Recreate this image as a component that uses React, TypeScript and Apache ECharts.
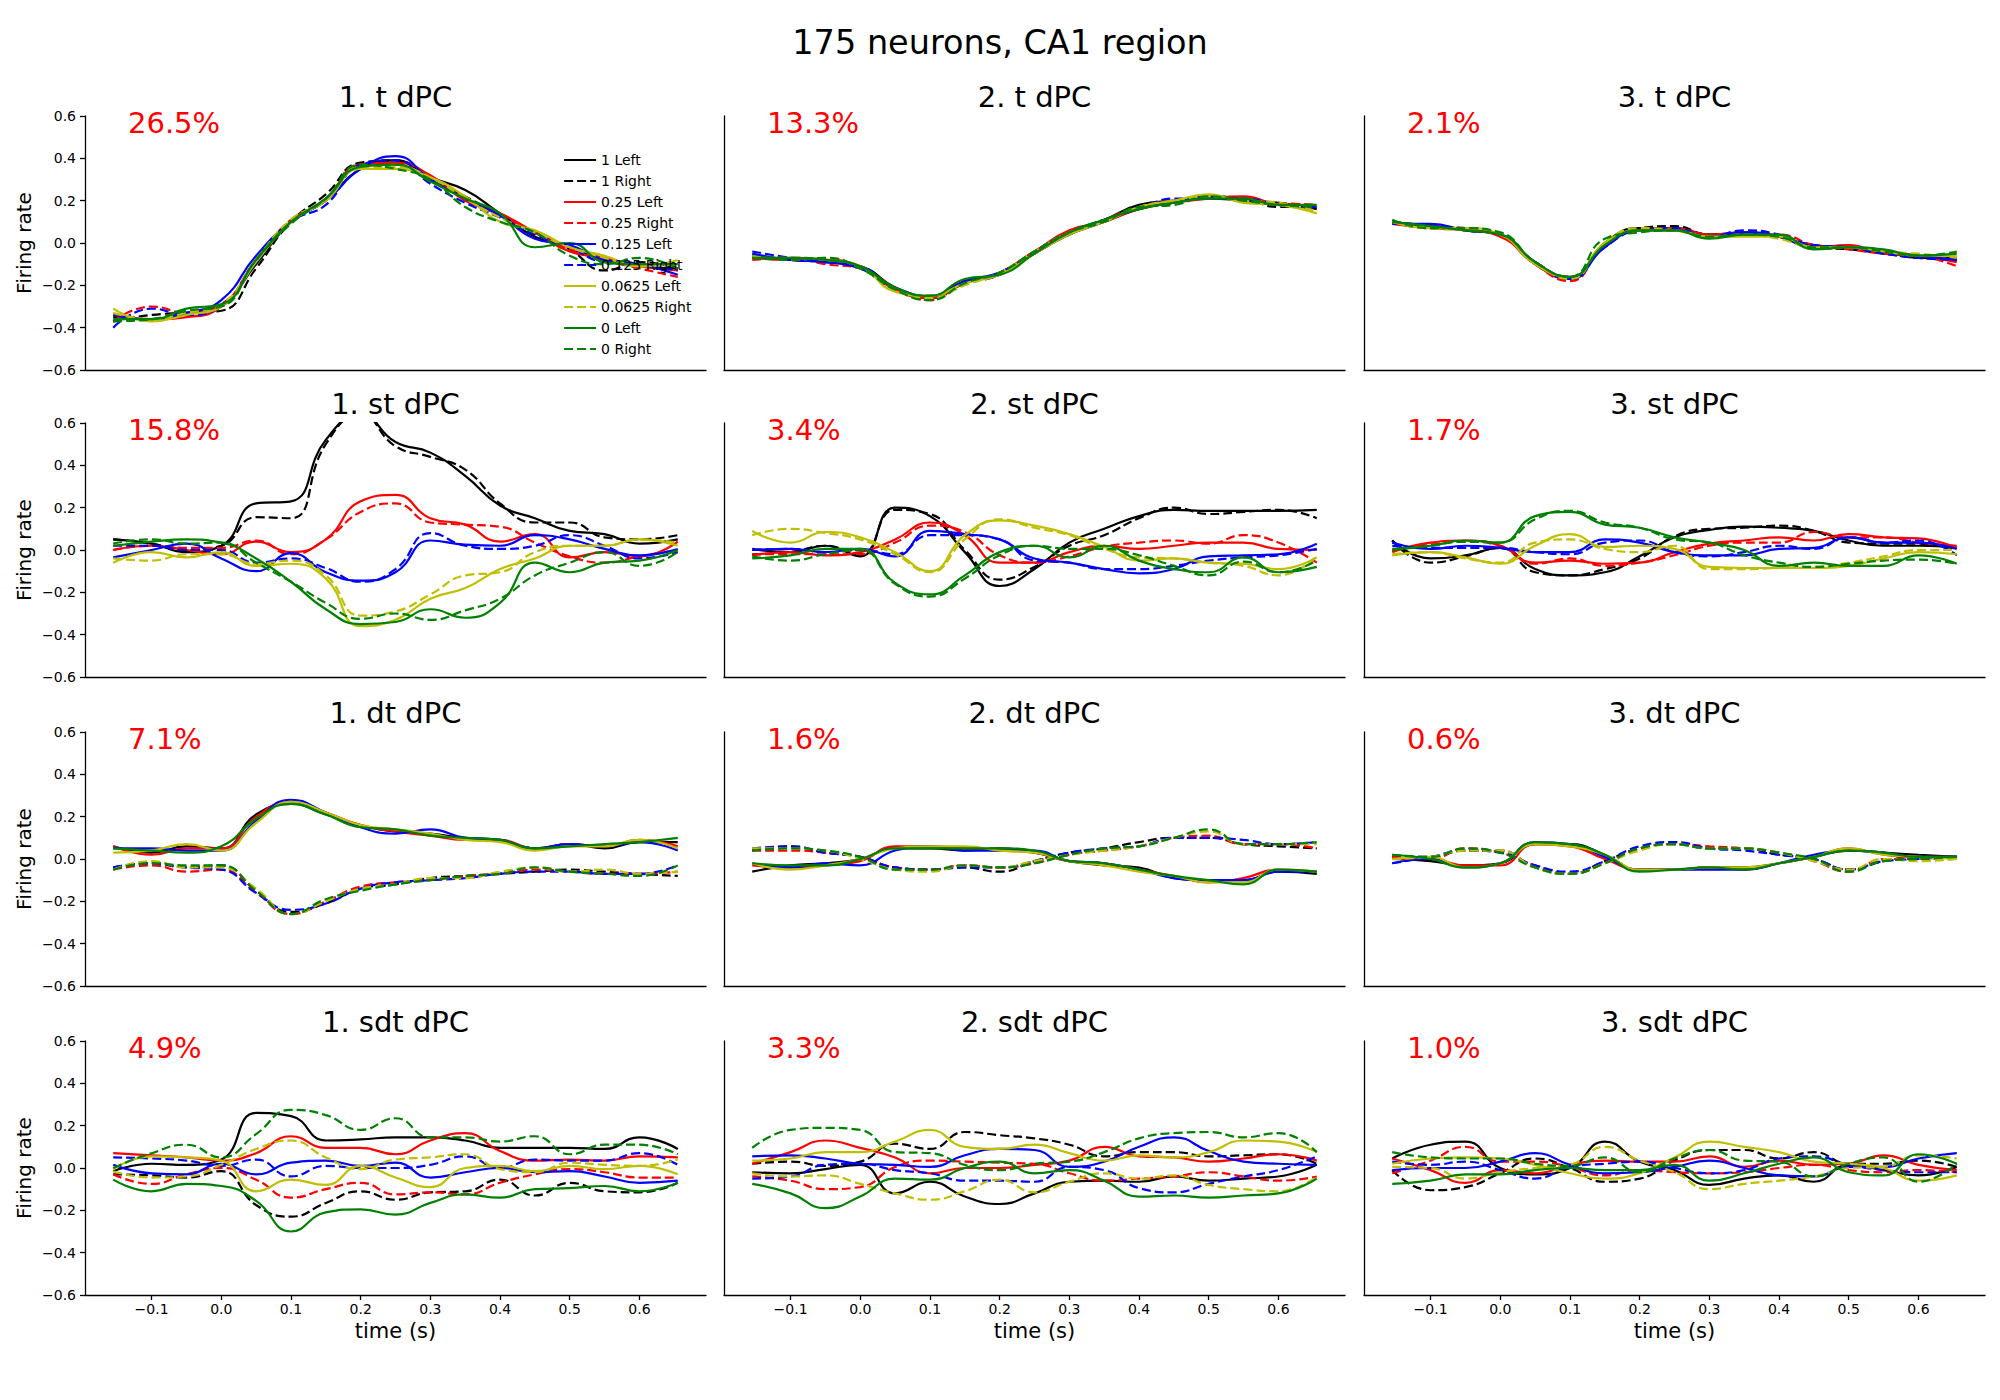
import React, { useEffect, useRef } from 'react';
import * as echarts from 'echarts';

// time axis (s), shared by every trace
const timeS = [-0.155, -0.1, -0.05, 0, 0.05, 0.1, 0.15, 0.2, 0.25, 0.3, 0.35, 0.4, 0.45, 0.5, 0.55, 0.6, 0.655];

const conditionNames = ['1 Left', '1 Right', '0.25 Left', '0.25 Right', '0.125 Left', '0.125 Right', '0.0625 Left', '0.0625 Right', '0 Left', '0 Right'];
const conditionColors = ['#000000', '#000000', '#ff0000', '#ff0000', '#0000ff', '#0000ff', '#bfbf00', '#bfbf00', '#008000', '#008000'];
const conditionDashed = [false, true, false, true, false, true, false, true, false, true];

const panelTitles = ['1. t dPC', '2. t dPC', '3. t dPC', '1. st dPC', '2. st dPC', '3. st dPC', '1. dt dPC', '2. dt dPC', '3. dt dPC', '1. sdt dPC', '2. sdt dPC', '3. sdt dPC'];
const explainedVar = ['26.5%', '13.3%', '2.1%', '15.8%', '3.4%', '1.7%', '7.1%', '1.6%', '0.6%', '4.9%', '3.3%', '1.0%'];

const xTicks = [-0.1, 0, 0.1, 0.2, 0.3, 0.4, 0.5, 0.6];

// one row per condition, in the order of conditionNames
const tDpc1 = [
  [-0.35, -0.36, -0.33, -0.29, -0.1, 0.1, 0.2, 0.35, 0.39, 0.31, 0.25, 0.14, 0.03, -0.02, -0.08, -0.11, -0.12],
  [-0.37, -0.34, -0.33, -0.32, -0.12, 0.1, 0.23, 0.38, 0.39, 0.3, 0.22, 0.13, 0.05, -0.03, -0.13, -0.09, -0.12],
  [-0.34, -0.36, -0.35, -0.3, -0.08, 0.1, 0.21, 0.37, 0.38, 0.32, 0.2, 0.14, 0.05, -0.04, -0.07, -0.11, -0.13],
  [-0.37, -0.3, -0.33, -0.29, -0.08, 0.11, 0.2, 0.37, 0.37, 0.3, 0.21, 0.13, 0.05, -0.03, -0.08, -0.12, -0.16],
  [-0.34, -0.36, -0.33, -0.27, -0.06, 0.1, 0.2, 0.35, 0.41, 0.3, 0.21, 0.13, 0.02, -0.01, -0.08, -0.1, -0.15],
  [-0.4, -0.31, -0.34, -0.3, -0.09, 0.1, 0.18, 0.37, 0.39, 0.28, 0.19, 0.12, 0.04, -0.02, -0.09, -0.1, -0.13],
  [-0.31, -0.37, -0.34, -0.3, -0.09, 0.1, 0.2, 0.35, 0.35, 0.31, 0.22, 0.1, 0.06, -0.02, -0.06, -0.11, -0.08],
  [-0.33, -0.36, -0.33, -0.29, -0.08, 0.11, 0.2, 0.36, 0.36, 0.31, 0.21, 0.12, 0.05, -0.02, -0.07, -0.11, -0.1],
  [-0.36, -0.36, -0.31, -0.29, -0.08, 0.1, 0.21, 0.36, 0.37, 0.29, 0.21, 0.14, -0.02, 0.0, -0.09, -0.1, -0.1],
  [-0.37, -0.36, -0.32, -0.3, -0.08, 0.09, 0.21, 0.37, 0.35, 0.3, 0.17, 0.1, 0.05, -0.06, -0.1, -0.07, -0.12],
];

const tDpc2 = [
  [-0.06, -0.08, -0.09, -0.11, -0.21, -0.26, -0.19, -0.14, -0.04, 0.05, 0.11, 0.18, 0.2, 0.21, 0.2, 0.19, 0.16],
  [-0.07, -0.07, -0.08, -0.12, -0.22, -0.25, -0.18, -0.15, -0.05, 0.04, 0.1, 0.16, 0.19, 0.22, 0.21, 0.17, 0.17],
  [-0.07, -0.08, -0.08, -0.11, -0.22, -0.26, -0.19, -0.14, -0.04, 0.06, 0.1, 0.16, 0.19, 0.21, 0.22, 0.18, 0.17],
  [-0.08, -0.07, -0.1, -0.12, -0.21, -0.27, -0.18, -0.15, -0.05, 0.04, 0.11, 0.17, 0.2, 0.22, 0.2, 0.19, 0.18],
  [-0.05, -0.08, -0.09, -0.12, -0.21, -0.25, -0.18, -0.14, -0.05, 0.04, 0.1, 0.17, 0.19, 0.22, 0.2, 0.18, 0.17],
  [-0.04, -0.07, -0.09, -0.11, -0.22, -0.26, -0.19, -0.15, -0.04, 0.05, 0.11, 0.16, 0.21, 0.21, 0.21, 0.18, 0.16],
  [-0.07, -0.07, -0.08, -0.11, -0.23, -0.25, -0.19, -0.15, -0.05, 0.04, 0.1, 0.17, 0.2, 0.23, 0.19, 0.18, 0.14],
  [-0.06, -0.08, -0.07, -0.12, -0.22, -0.26, -0.2, -0.14, -0.04, 0.05, 0.1, 0.17, 0.2, 0.22, 0.2, 0.19, 0.15],
  [-0.07, -0.07, -0.08, -0.11, -0.21, -0.25, -0.17, -0.15, -0.05, 0.05, 0.11, 0.16, 0.19, 0.21, 0.21, 0.18, 0.18],
  [-0.07, -0.08, -0.07, -0.12, -0.22, -0.27, -0.19, -0.14, -0.04, 0.05, 0.1, 0.17, 0.18, 0.22, 0.2, 0.18, 0.17],
];

const tDpc3 = [
  [0.09, 0.08, 0.06, 0.04, -0.1, -0.17, 0.0, 0.07, 0.07, 0.04, 0.05, 0.03, -0.01, -0.02, -0.04, -0.07, -0.07],
  [0.1, 0.07, 0.07, 0.04, -0.09, -0.16, -0.01, 0.07, 0.08, 0.04, 0.04, 0.03, -0.02, -0.03, -0.05, -0.07, -0.08],
  [0.09, 0.07, 0.06, 0.03, -0.1, -0.17, -0.01, 0.06, 0.07, 0.04, 0.05, 0.03, -0.02, -0.01, -0.05, -0.06, -0.09],
  [0.1, 0.08, 0.07, 0.04, -0.1, -0.18, -0.01, 0.06, 0.06, 0.03, 0.04, 0.04, -0.01, -0.03, -0.05, -0.06, -0.11],
  [0.09, 0.09, 0.06, 0.04, -0.09, -0.17, -0.02, 0.06, 0.06, 0.03, 0.05, 0.03, -0.02, -0.02, -0.04, -0.06, -0.08],
  [0.1, 0.08, 0.06, 0.04, -0.09, -0.16, -0.02, 0.06, 0.07, 0.03, 0.06, 0.04, -0.01, -0.02, -0.05, -0.07, -0.08],
  [0.1, 0.07, 0.07, 0.04, -0.1, -0.16, 0.0, 0.06, 0.06, 0.03, 0.03, 0.03, -0.02, -0.02, -0.04, -0.06, -0.06],
  [0.1, 0.07, 0.06, 0.04, -0.09, -0.17, 0.0, 0.07, 0.06, 0.03, 0.04, 0.02, -0.02, -0.02, -0.04, -0.05, -0.07],
  [0.1, 0.08, 0.06, 0.04, -0.09, -0.16, -0.01, 0.06, 0.06, 0.02, 0.04, 0.04, -0.03, -0.02, -0.03, -0.06, -0.05],
  [0.11, 0.07, 0.07, 0.05, -0.09, -0.16, 0.02, 0.05, 0.06, 0.03, 0.04, 0.03, -0.02, -0.02, -0.04, -0.06, -0.04],
];

const stDpc1 = [
  [0.05, 0.03, -0.01, 0.02, 0.22, 0.23, 0.52, 0.64, 0.51, 0.46, 0.35, 0.21, 0.15, 0.09, 0.075, 0.03, 0.05],
  [0.05, 0.03, 0.0, 0.02, 0.155, 0.15, 0.5, 0.64, 0.49, 0.44, 0.38, 0.22, 0.13, 0.13, 0.06, 0.05, 0.07],
  [0.0, 0.02, 0.0, -0.02, 0.04, -0.01, 0.05, 0.23, 0.26, 0.15, 0.12, 0.04, 0.075, -0.035, -0.01, -0.03, 0.04],
  [0.0, 0.02, 0.01, 0.01, 0.045, -0.02, 0.05, 0.18, 0.22, 0.13, 0.12, 0.11, 0.035, -0.03, -0.06, -0.03, 0.0],
  [-0.035, 0.0, 0.03, -0.04, -0.1, -0.015, -0.105, -0.145, -0.105, 0.045, 0.025, 0.02, 0.07, 0.05, 0.005, -0.025, 0.005],
  [0.02, 0.02, 0.0, 0.0, -0.06, -0.04, -0.085, -0.15, -0.09, 0.08, 0.02, 0.005, 0.02, 0.07, 0.02, -0.04, -0.01],
  [-0.06, -0.01, -0.035, -0.01, -0.075, -0.065, -0.135, -0.36, -0.33, -0.23, -0.18, -0.09, -0.04, 0.02, 0.02, 0.05, 0.02],
  [-0.04, -0.05, -0.02, -0.02, -0.065, -0.05, -0.12, -0.31, -0.29, -0.21, -0.12, -0.105, -0.01, 0.02, 0.02, 0.05, 0.035],
  [0.02, 0.04, 0.05, 0.035, -0.04, -0.15, -0.28, -0.35, -0.34, -0.28, -0.32, -0.25, -0.06, -0.105, -0.06, -0.05, 0.0],
  [0.03, 0.05, 0.03, 0.035, -0.06, -0.15, -0.25, -0.325, -0.3, -0.33, -0.285, -0.23, -0.12, -0.06, -0.01, -0.075, -0.01],
];

const stDpc2 = [
  [0.005, -0.01, 0.02, -0.03, 0.2, 0.16, -0.01, -0.17, -0.09, 0.035, 0.1, 0.16, 0.19, 0.185, 0.185, 0.185, 0.19],
  [-0.02, -0.01, 0.02, -0.02, 0.19, 0.17, 0.0, -0.14, -0.08, 0.02, 0.07, 0.15, 0.2, 0.17, 0.18, 0.19, 0.15],
  [-0.025, -0.01, -0.025, -0.01, 0.05, 0.13, 0.07, -0.06, -0.06, -0.01, 0.02, 0.005, 0.02, 0.035, 0.035, 0.005, 0.0],
  [-0.02, -0.02, -0.02, -0.02, 0.035, 0.115, 0.085, -0.025, -0.06, -0.03, 0.015, 0.035, 0.045, 0.03, 0.07, 0.035, -0.06],
  [0.0, 0.005, -0.01, 0.005, -0.03, 0.09, 0.075, 0.05, -0.04, -0.06, -0.09, -0.11, -0.09, -0.03, -0.025, -0.02, 0.03],
  [0.0, 0.005, -0.01, 0.0, -0.02, 0.07, 0.07, 0.05, -0.05, -0.06, -0.09, -0.09, -0.075, -0.05, -0.035, -0.025, 0.005],
  [0.09, 0.035, 0.085, 0.06, -0.01, -0.1, 0.07, 0.14, 0.115, 0.075, 0.015, -0.05, -0.04, -0.06, -0.065, -0.09, -0.035],
  [0.07, 0.1, 0.08, 0.05, -0.02, -0.105, 0.05, 0.145, 0.105, 0.07, 0.005, -0.035, -0.04, -0.06, -0.075, -0.12, -0.03],
  [-0.04, -0.025, 0.005, 0.005, -0.155, -0.21, -0.12, -0.01, 0.02, -0.035, 0.02, -0.05, -0.09, -0.105, -0.035, -0.105, -0.08],
  [-0.03, -0.05, -0.02, 0.0, -0.16, -0.22, -0.135, -0.025, 0.02, 0.005, 0.005, -0.025, -0.075, -0.12, -0.055, -0.105, -0.05],
];

const stDpc3 = [
  [0.045, -0.04, -0.025, 0.01, -0.09, -0.12, -0.105, -0.03, 0.06, 0.095, 0.11, 0.105, 0.09, 0.045, 0.02, 0.02, 0.01],
  [0.045, -0.06, -0.03, 0.01, -0.105, -0.12, -0.09, -0.04, 0.065, 0.1, 0.105, 0.115, 0.09, 0.035, 0.03, 0.03, 0.005],
  [-0.01, 0.035, 0.045, 0.02, -0.06, -0.05, -0.065, -0.06, -0.01, 0.03, 0.045, 0.06, 0.045, 0.075, 0.06, 0.055, 0.01],
  [0.0, 0.025, 0.04, 0.02, -0.065, -0.04, -0.075, -0.06, -0.025, 0.02, 0.035, 0.035, 0.085, 0.06, 0.06, 0.035, 0.02],
  [0.035, 0.005, 0.02, 0.01, -0.01, -0.01, 0.05, 0.035, -0.01, -0.025, -0.025, 0.005, 0.01, 0.06, 0.035, 0.035, 0.005],
  [0.02, 0.01, 0.01, 0.01, -0.01, -0.02, 0.035, 0.045, -0.01, -0.03, -0.01, 0.02, 0.005, 0.06, 0.035, 0.045, -0.025],
  [-0.025, -0.01, -0.035, -0.065, 0.02, 0.075, 0.015, 0.02, 0.005, -0.08, -0.085, -0.085, -0.085, -0.075, -0.04, -0.01, -0.02],
  [-0.02, -0.01, -0.04, -0.06, 0.035, 0.05, 0.005, -0.01, 0.02, -0.09, -0.09, -0.085, -0.08, -0.06, -0.03, 0.0, 0.0],
  [0.005, 0.02, 0.045, 0.035, 0.16, 0.18, 0.12, 0.105, 0.06, 0.035, 0.0, -0.075, -0.06, -0.075, -0.075, -0.025, -0.065],
  [0.0, 0.02, 0.04, 0.035, 0.145, 0.185, 0.13, 0.105, 0.05, 0.035, -0.025, -0.06, -0.08, -0.065, -0.05, -0.045, -0.065],
];

const dtDpc1 = [
  [0.06, 0.03, 0.06, 0.05, 0.21, 0.26, 0.21, 0.16, 0.13, 0.12, 0.1, 0.09, 0.05, 0.07, 0.05, 0.08, 0.08],
  [-0.04, -0.02, -0.04, -0.03, -0.15, -0.25, -0.21, -0.14, -0.12, -0.09, -0.08, -0.07, -0.06, -0.05, -0.06, -0.07, -0.08],
  [0.06, 0.02, 0.05, 0.05, 0.2, 0.27, 0.22, 0.16, 0.13, 0.11, 0.09, 0.09, 0.05, 0.07, 0.06, 0.09, 0.06],
  [-0.05, -0.03, -0.06, -0.05, -0.16, -0.26, -0.2, -0.13, -0.11, -0.1, -0.08, -0.07, -0.05, -0.06, -0.07, -0.07, -0.06],
  [0.05, 0.05, 0.04, 0.04, 0.18, 0.28, 0.22, 0.15, 0.12, 0.14, 0.1, 0.09, 0.05, 0.07, 0.06, 0.08, 0.04],
  [-0.04, -0.02, -0.04, -0.05, -0.16, -0.24, -0.21, -0.14, -0.11, -0.1, -0.09, -0.07, -0.06, -0.06, -0.07, -0.07, -0.03],
  [0.03, 0.04, 0.07, 0.04, 0.17, 0.27, 0.22, 0.16, 0.14, 0.12, 0.09, 0.08, 0.04, 0.06, 0.06, 0.09, 0.05],
  [-0.05, -0.01, -0.04, -0.04, -0.14, -0.26, -0.2, -0.14, -0.12, -0.09, -0.09, -0.06, -0.04, -0.06, -0.05, -0.07, -0.06],
  [0.05, 0.04, 0.03, 0.06, 0.19, 0.26, 0.21, 0.15, 0.14, 0.11, 0.1, 0.09, 0.05, 0.06, 0.07, 0.08, 0.1],
  [-0.05, -0.02, -0.03, -0.03, -0.15, -0.26, -0.19, -0.15, -0.12, -0.1, -0.08, -0.07, -0.04, -0.06, -0.07, -0.08, -0.03],
];

const dtDpc2 = [
  [-0.06, -0.03, -0.02, 0.0, 0.05, 0.05, 0.04, 0.05, 0.03, -0.01, -0.03, -0.04, -0.09, -0.1, -0.1, -0.06, -0.07],
  [0.04, 0.06, 0.03, 0.01, -0.04, -0.05, -0.04, -0.06, -0.01, 0.03, 0.05, 0.08, 0.1, 0.1, 0.07, 0.06, 0.05],
  [-0.03, -0.04, -0.03, -0.01, 0.06, 0.06, 0.05, 0.04, 0.03, -0.01, -0.02, -0.05, -0.08, -0.11, -0.09, -0.05, -0.06],
  [0.04, 0.04, 0.03, 0.01, -0.04, -0.05, -0.03, -0.04, -0.02, 0.02, 0.04, 0.06, 0.1, 0.11, 0.07, 0.07, 0.05],
  [-0.02, -0.04, -0.02, -0.03, 0.04, 0.06, 0.04, 0.04, 0.04, -0.01, -0.02, -0.05, -0.09, -0.1, -0.1, -0.06, -0.06],
  [0.05, 0.06, 0.03, 0.01, -0.04, -0.05, -0.04, -0.04, -0.01, 0.03, 0.05, 0.06, 0.1, 0.1, 0.09, 0.07, 0.08],
  [-0.02, -0.05, -0.03, 0.0, 0.05, 0.06, 0.06, 0.04, 0.03, -0.01, -0.03, -0.06, -0.08, -0.11, -0.11, -0.05, -0.06],
  [0.05, 0.05, 0.04, 0.0, -0.05, -0.06, -0.03, -0.04, -0.01, 0.02, 0.04, 0.06, 0.1, 0.13, 0.07, 0.07, 0.07],
  [-0.02, -0.03, -0.03, 0.0, 0.05, 0.05, 0.05, 0.05, 0.04, -0.01, -0.02, -0.05, -0.08, -0.1, -0.12, -0.05, -0.06],
  [0.04, 0.05, 0.04, 0.01, -0.05, -0.05, -0.03, -0.04, -0.02, 0.02, 0.05, 0.06, 0.1, 0.14, 0.07, 0.07, 0.08],
];

const dtDpc3 = [
  [0.0, -0.01, -0.03, -0.02, 0.07, 0.07, 0.02, -0.05, -0.05, -0.04, -0.04, -0.02, 0.01, 0.04, 0.03, 0.02, 0.01],
  [0.01, 0.01, 0.04, 0.04, -0.04, -0.07, -0.01, 0.05, 0.07, 0.05, 0.05, 0.02, 0.0, -0.05, -0.01, 0.01, 0.01],
  [0.0, 0.0, -0.03, -0.03, 0.07, 0.06, 0.0, -0.05, -0.05, -0.04, -0.05, -0.02, 0.01, 0.05, 0.02, 0.01, 0.01],
  [0.01, 0.0, 0.05, 0.03, -0.03, -0.07, -0.02, 0.05, 0.07, 0.06, 0.05, 0.03, -0.01, -0.06, 0.0, 0.0, 0.01],
  [-0.02, 0.0, -0.04, -0.02, 0.08, 0.07, 0.01, -0.05, -0.05, -0.05, -0.05, -0.02, 0.02, 0.04, 0.03, 0.01, 0.01],
  [-0.02, 0.01, 0.04, 0.03, -0.03, -0.06, -0.01, 0.06, 0.08, 0.05, 0.04, 0.02, 0.0, -0.05, -0.01, 0.0, 0.01],
  [0.0, 0.01, -0.04, -0.02, 0.07, 0.06, 0.02, -0.05, -0.05, -0.04, -0.04, -0.02, 0.01, 0.05, 0.02, 0.01, 0.0],
  [0.0, 0.01, 0.04, 0.04, -0.04, -0.07, -0.02, 0.04, 0.07, 0.05, 0.05, 0.03, -0.01, -0.05, 0.0, -0.01, 0.0],
  [0.02, 0.0, -0.04, -0.02, 0.08, 0.07, 0.02, -0.06, -0.05, -0.04, -0.05, -0.02, 0.01, 0.04, 0.03, 0.01, 0.01],
  [0.02, 0.01, 0.05, 0.03, -0.04, -0.07, -0.02, 0.05, 0.07, 0.05, 0.05, 0.03, 0.0, -0.06, -0.01, 0.0, 0.01],
];

const sdtDpc1 = [
  [-0.015, 0.02, 0.015, 0.04, 0.26, 0.245, 0.13, 0.135, 0.145, 0.145, 0.13, 0.095, 0.095, 0.095, 0.09, 0.145, 0.09],
  [-0.03, -0.035, -0.045, -0.015, -0.175, -0.23, -0.165, -0.11, -0.15, -0.115, -0.11, -0.055, -0.13, -0.07, -0.11, -0.115, -0.07],
  [0.07, 0.06, 0.05, 0.035, 0.07, 0.15, 0.095, 0.095, 0.065, 0.13, 0.165, 0.08, 0.035, 0.04, 0.035, 0.055, 0.05],
  [-0.03, -0.075, -0.03, 0.0, -0.055, -0.14, -0.1, -0.07, -0.125, -0.115, -0.125, -0.07, -0.03, -0.005, -0.02, -0.045, -0.045],
  [0.015, -0.025, -0.03, 0.02, -0.03, 0.025, 0.035, 0.01, 0.025, -0.045, -0.02, 0.0, -0.02, -0.015, -0.04, -0.07, -0.06],
  [0.05, 0.045, 0.035, 0.01, 0.04, -0.04, 0.01, 0.0, 0.0, 0.015, 0.055, 0.0, 0.04, 0.035, 0.035, 0.07, 0.015],
  [-0.005, 0.055, 0.05, 0.035, -0.11, -0.055, -0.08, 0.01, -0.045, -0.09, 0.0, 0.01, -0.015, 0.01, -0.005, 0.01, -0.03],
  [-0.015, -0.045, -0.04, 0.015, 0.09, 0.13, 0.05, -0.005, 0.04, 0.05, 0.065, -0.005, -0.02, 0.025, 0.015, 0.01, 0.04],
  [-0.055, -0.11, -0.075, -0.085, -0.155, -0.3, -0.21, -0.195, -0.22, -0.165, -0.125, -0.14, -0.1, -0.095, -0.085, -0.11, -0.07],
  [0.0, 0.07, 0.11, 0.05, 0.16, 0.275, 0.25, 0.18, 0.235, 0.145, 0.145, 0.125, 0.15, 0.065, 0.11, 0.11, 0.065],
];

const sdtDpc2 = [
  [-0.02, -0.025, -0.005, 0.015, -0.12, -0.065, -0.135, -0.17, -0.12, -0.065, -0.06, -0.065, -0.04, -0.06, -0.05, -0.04, 0.015],
  [0.02, 0.03, 0.01, 0.03, 0.115, 0.09, 0.17, 0.155, 0.14, 0.11, 0.055, 0.075, 0.075, 0.055, 0.06, 0.065, 0.02],
  [0.02, 0.075, 0.13, 0.095, 0.05, -0.025, 0.0, 0.0, 0.015, 0.035, 0.1, 0.055, 0.05, 0.03, 0.045, 0.065, 0.035],
  [-0.04, -0.06, -0.1, -0.09, 0.005, 0.035, 0.03, 0.025, 0.02, -0.025, -0.06, -0.05, -0.04, -0.02, -0.04, -0.06, -0.04],
  [0.055, 0.06, 0.045, 0.02, 0.015, 0.005, 0.06, 0.09, 0.085, 0.005, 0.03, 0.1, 0.145, 0.08, 0.03, 0.02, 0.015],
  [-0.05, -0.04, 0.015, 0.02, -0.01, -0.025, -0.06, -0.06, -0.065, 0.005, -0.01, -0.095, -0.115, -0.075, -0.04, -0.01, 0.055],
  [0.035, 0.045, 0.075, 0.075, 0.125, 0.18, 0.1, 0.09, 0.11, 0.07, 0.035, 0.06, 0.05, 0.075, 0.13, 0.125, 0.075],
  [-0.025, -0.04, -0.035, -0.075, -0.12, -0.15, -0.11, -0.055, -0.115, -0.065, -0.025, -0.05, -0.035, -0.08, -0.1, -0.11, -0.04],
  [-0.075, -0.12, -0.19, -0.135, -0.05, -0.055, 0.0, 0.03, -0.025, -0.01, -0.06, -0.135, -0.13, -0.14, -0.13, -0.12, -0.05],
  [0.095, 0.18, 0.19, 0.18, 0.075, 0.07, 0.015, -0.01, 0.02, 0.03, 0.075, 0.14, 0.165, 0.17, 0.145, 0.165, 0.075],
];

const sdtDpc3 = [
  [0.045, 0.11, 0.125, 0.0, -0.03, 0.0, 0.125, 0.03, -0.01, -0.08, -0.05, -0.035, -0.065, 0.015, -0.01, -0.035, 0.005],
  [-0.01, -0.105, -0.09, -0.025, 0.045, 0.0, -0.065, -0.05, 0.035, 0.085, 0.085, 0.045, 0.075, 0.02, 0.02, 0.035, 0.005],
  [0.045, -0.01, -0.07, -0.01, -0.025, 0.015, 0.035, 0.03, 0.03, 0.055, 0.005, 0.035, 0.015, 0.02, 0.06, 0.015, -0.01],
  [-0.025, 0.035, 0.1, 0.03, 0.03, 0.005, -0.035, -0.01, -0.02, -0.025, -0.02, 0.0, 0.015, -0.01, -0.02, -0.01, -0.02],
  [-0.01, 0.0, 0.0, 0.03, 0.07, 0.015, -0.025, -0.02, 0.005, 0.035, 0.0, -0.035, -0.04, 0.005, 0.005, 0.045, 0.07],
  [0.03, 0.015, 0.03, -0.01, -0.05, 0.005, 0.02, 0.03, 0.0, -0.025, -0.01, 0.045, 0.055, 0.015, -0.01, -0.02, -0.02],
  [0.02, 0.045, 0.05, 0.045, 0.015, -0.025, -0.05, -0.025, 0.05, 0.125, 0.1, 0.075, 0.03, 0.02, 0.0, -0.06, -0.035],
  [0.005, 0.0, -0.05, -0.02, 0.0, 0.015, 0.1, 0.035, -0.02, -0.1, -0.075, -0.06, -0.04, 0.0, 0.005, 0.06, 0.045],
  [-0.075, -0.06, -0.03, -0.03, -0.01, 0.0, -0.01, -0.01, 0.015, -0.06, -0.025, 0.02, 0.05, -0.02, -0.035, 0.065, 0.02],
  [0.075, 0.05, 0.045, 0.045, 0.02, 0.01, 0.05, -0.02, 0.045, 0.085, 0.035, 0.03, -0.04, 0.02, 0.05, -0.065, 0.02],
];

const panels = [tDpc1, tDpc2, tDpc3, stDpc1, stDpc2, stDpc3, dtDpc1, dtDpc2, dtDpc3, sdtDpc1, sdtDpc2, sdtDpc3];

const colLeft = [85, 724, 1364];
const rowTop = [116, 423, 732, 1041];
const gridW = 621;
const gridH = 254;
const font = 'DejaVu Sans';

const fmt = (v: number) => {
  const s = Math.abs(v).toFixed(1);
  return v < -1e-9 ? '\u2212' + s : s;
};

const App: React.FC = () => {
  const chartRef = useRef<HTMLDivElement>(null);

  useEffect(() => {
    document.body.style.margin = '0';
    if (!chartRef.current) return;
    const chart = echarts.init(chartRef.current, undefined, { renderer: 'svg' });

    const grids: any[] = [];
    const xAxes: any[] = [];
    const yAxes: any[] = [];
    const series: any[] = [];
    const graphics: any[] = [];

    panels.forEach((rows, p) => {
      const r = Math.floor(p / 3);
      const c = p % 3;
      const left = colLeft[c];
      const top = rowTop[r];
      const bottomRow = r === 3;
      const leftCol = c === 0;
      grids.push({ left, top, width: gridW, height: gridH, containLabel: false });

      xAxes.push({
        gridIndex: p,
        type: 'value',
        min: -0.1955,
        max: 0.6955,
        axisLine: { show: true, onZero: false, lineStyle: { color: '#000', width: 1.3 } },
        axisTick: { show: bottomRow, customValues: xTicks, length: 5, lineStyle: { color: '#000', width: 1.3 } },
        axisLabel: { show: bottomRow, customValues: xTicks, formatter: fmt, fontSize: 14, color: '#000', fontFamily: font, margin: 7 },
        splitLine: { show: false },
      });
      yAxes.push({
        gridIndex: p,
        type: 'value',
        min: -0.6,
        max: 0.6,
        interval: 0.2,
        axisLine: { show: true, onZero: false, lineStyle: { color: '#000', width: 1.3 } },
        axisTick: { show: leftCol, length: 5, lineStyle: { color: '#000', width: 1.3 } },
        axisLabel: { show: leftCol, formatter: fmt, fontSize: 14, color: '#000', fontFamily: font, margin: 9 },
        splitLine: { show: false },
      });

      rows.forEach((vals, k) => {
        series.push({
          type: 'line',
          name: conditionNames[k],
          xAxisIndex: p,
          yAxisIndex: p,
          data: timeS.map((t, i) => [t, vals[i]]),
          symbol: 'none',
          showSymbol: false,
          smooth: 0.5,
          clip: true,
          silent: true,
          lineStyle: { color: conditionColors[k], width: 2.2, type: conditionDashed[k] ? [9, 4] : 'solid' },
          itemStyle: { color: conditionColors[k] },
        });
      });

      graphics.push({
        type: 'text',
        x: left + gridW / 2,
        y: top - 19,
        style: { text: panelTitles[p], fontSize: 29, fontFamily: font, fill: '#000', textAlign: 'center', textVerticalAlign: 'middle' },
      });
      graphics.push({
        type: 'text',
        x: left + 43,
        y: top + 7,
        style: { text: explainedVar[p], fontSize: 29, fontFamily: font, fill: '#ff0000', textAlign: 'left', textVerticalAlign: 'middle' },
      });
      if (leftCol) {
        graphics.push({
          type: 'text',
          x: 24,
          y: top + gridH / 2,
          rotation: Math.PI / 2,
          style: { text: 'Firing rate', fontSize: 20, fontFamily: font, fill: '#000', textAlign: 'center', textVerticalAlign: 'middle' },
        });
      }
      if (bottomRow) {
        graphics.push({
          type: 'text',
          x: left + gridW / 2,
          y: 1331,
          style: { text: 'time (s)', fontSize: 21, fontFamily: font, fill: '#000', textAlign: 'center', textVerticalAlign: 'middle' },
        });
      }
    });

    graphics.push({
      type: 'text',
      x: 1000,
      y: 42,
      style: { text: '175 neurons, CA1 region', fontSize: 33.5, fontFamily: font, fill: '#000', textAlign: 'center', textVerticalAlign: 'middle' },
    });

    chart.setOption({
      animation: false,
      backgroundColor: '#ffffff',
      textStyle: { fontFamily: font },
      grid: grids,
      xAxis: xAxes,
      yAxis: yAxes,
      series,
      legend: {
        data: conditionNames,
        orient: 'vertical',
        left: 563,
        top: 153,
        itemWidth: 32,
        itemHeight: 14,
        itemGap: 7,
        padding: 0,
        selectedMode: false,
        itemStyle: { opacity: 0 },
        lineStyle: { width: 2.2 },
        textStyle: { fontSize: 14, color: '#000', fontFamily: font },
      },
      graphic: graphics,
    });

    return () => {
      chart.dispose();
    };
  }, []);

  return <div ref={chartRef} style={{ width: '2000px', height: '1400px' }}></div>;
};

export default App;
